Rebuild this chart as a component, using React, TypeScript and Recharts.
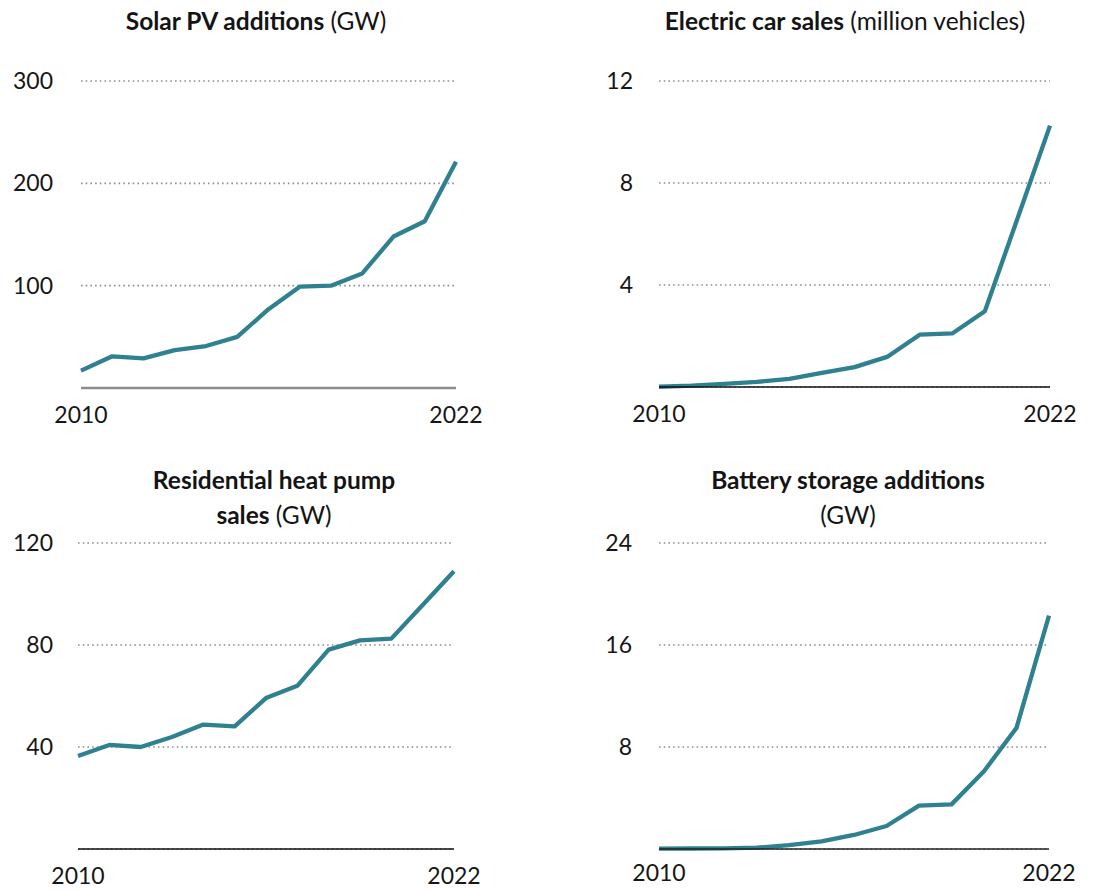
import { CartesianGrid, Line, LineChart, XAxis, YAxis } from "recharts";

const years = [2010, 2011, 2012, 2013, 2014, 2015, 2016, 2017, 2018, 2019, 2020, 2021, 2022];

const solarPv = [17, 31, 29, 37, 41, 50, 77, 99, 100, 112, 148, 163, 221];
const evSales = [0.01, 0.05, 0.12, 0.2, 0.32, 0.55, 0.78, 1.18, 2.05, 2.1, 2.97, 6.6, 10.25];
const heatPumps = [36.5, 40.8, 40, 43.9, 48.8, 48.1, 59.2, 64, 78.2, 81.8, 82.5, 95.7, 108.9];
const battery = [0.03, 0.04, 0.05, 0.1, 0.3, 0.6, 1.1, 1.8, 3.4, 3.5, 6.1, 9.5, 18.3];

const solarTicks = [100, 200, 300];
const evTicks = [4, 8, 12];
const heatTicks = [40, 80, 120];
const batteryTicks = [8, 16, 24];
const yearTicks = [2010, 2022];

const LINE_COLOR = "#2f8190";
const FONT = "Lato, 'Open Sans', sans-serif";

const toRows = (values: number[]) => years.map((year, i) => ({ year, value: values[i] }));

type PanelProps = {
    values: number[];
    ticks: number[];
    left: number;
    top: number;
    width: number;
    height: number;
    plotLeft: number;
    plotRight: number;
    plotTop: number;
    plotBottom: number;
    labelGap: number;
    yearGap: number;
    axisColor: string;
    axisWidth: number;
};

const Panel = (p: PanelProps) => {
    const max = p.ticks[p.ticks.length - 1];
    return (
        <div style={{ position: "absolute", left: p.left, top: p.top }}>
            <LineChart
                width={p.width}
                height={p.height}
                data={toRows(p.values)}
                margin={{ top: p.plotTop, right: p.width - p.plotRight, bottom: 0, left: 0 }}
            >
                <CartesianGrid
                    vertical={false}
                    horizontal
                    stroke="#8f8f8f"
                    strokeWidth={1.6}
                    strokeDasharray="1.6 3.1"
                />
                <XAxis
                    dataKey="year"
                    type="number"
                    domain={[2010, 2022]}
                    ticks={yearTicks}
                    height={p.height - p.plotBottom}
                    tickLine={false}
                    tickMargin={p.yearGap}
                    axisLine={{ stroke: p.axisColor, strokeWidth: p.axisWidth }}
                    tick={{ fill: "#161616", fontSize: 23, fontFamily: FONT }}
                />
                <YAxis
                    domain={[0, max]}
                    ticks={p.ticks}
                    width={p.plotLeft}
                    axisLine={false}
                    tickLine={false}
                    tickMargin={p.labelGap}
                    tick={{ fill: "#161616", fontSize: 23, fontFamily: FONT }}
                />
                <Line
                    dataKey="value"
                    stroke={LINE_COLOR}
                    strokeWidth={4.3}
                    dot={false}
                    strokeLinejoin="round"
                    isAnimationActive={false}
                />
            </LineChart>
        </div>
    );
};

const titleStyle = (left: number, top: number, width: number) => ({
    position: "absolute" as const,
    left,
    top,
    width,
    textAlign: "center" as const,
    fontFamily: FONT,
    fontSize: 24.5,
    lineHeight: "35px",
    color: "#141414",
});

export default function App() {
    return (
        <div
            style={{
                position: "absolute",
                left: 0,
                top: 0,
                width: 1107,
                height: 894,
                background: "#fff",
                overflow: "hidden",
            }}
        >
            <div style={titleStyle(56, 3, 400)}>
                <b>Solar PV additions</b> (GW)
            </div>
            <div style={titleStyle(645, 3, 400)}>
                <b>Electric car sales</b> (million vehicles)
            </div>
            <div style={titleStyle(74, 462, 400)}>
                <b>Residential heat pump</b>
                <br />
                <b>sales</b> (GW)
            </div>
            <div style={titleStyle(648, 462, 400)}>
                <b>Battery storage additions</b>
                <br />
                (GW)
            </div>

            <Panel
                values={solarPv}
                ticks={solarTicks}
                left={0}
                top={0}
                width={540}
                height={440}
                plotLeft={81}
                plotRight={456}
                plotTop={81}
                plotBottom={388}
                labelGap={22}
                yearGap={13}
                axisColor="#8c8c8c"
                axisWidth={2.5}
            />
            <Panel
                values={evSales}
                ticks={evTicks}
                left={560}
                top={0}
                width={547}
                height={440}
                plotLeft={99}
                plotRight={490}
                plotTop={81}
                plotBottom={387}
                labelGap={20}
                yearGap={13}
                axisColor="#111"
                axisWidth={1.5}
            />
            <Panel
                values={heatPumps}
                ticks={heatTicks}
                left={0}
                top={450}
                width={540}
                height={444}
                plotLeft={78}
                plotRight={454}
                plotTop={93}
                plotBottom={399}
                labelGap={19}
                yearGap={13}
                axisColor="#111"
                axisWidth={1.5}
            />
            <Panel
                values={battery}
                ticks={batteryTicks}
                left={560}
                top={450}
                width={547}
                height={444}
                plotLeft={99}
                plotRight={489}
                plotTop={93}
                plotBottom={399}
                labelGap={21}
                yearGap={10}
                axisColor="#222"
                axisWidth={1.5}
            />
        </div>
    );
}
